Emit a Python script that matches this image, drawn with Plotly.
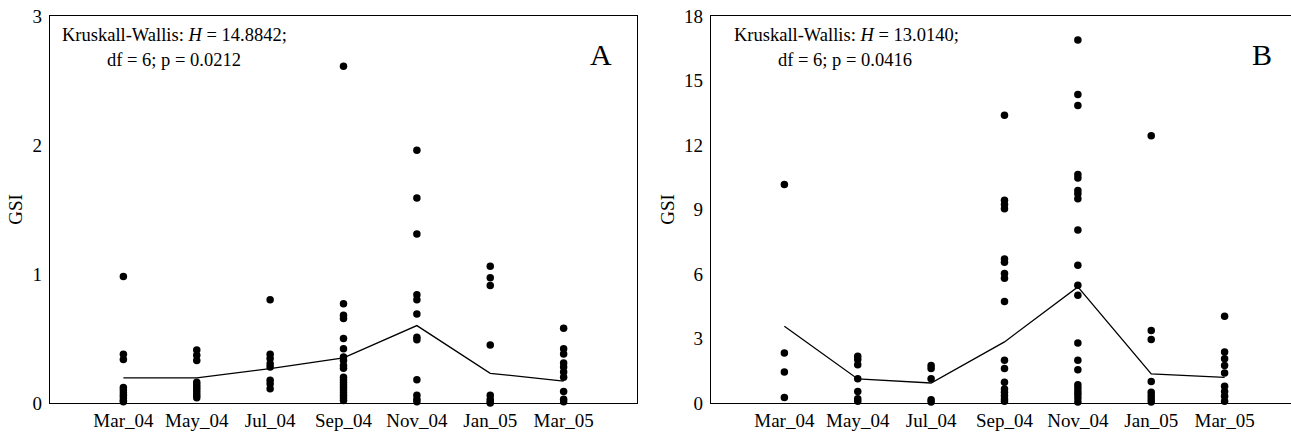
import plotly.graph_objects as go

categories = ["Mar_04", "May_04", "Jul_04", "Sep_04", "Nov_04", "Jan_05", "Mar_05"]

# Panel A: GSI values per sampling month
gsi_a = {
    "Mar_04": [0.98, 0.378, 0.337, 0.12, 0.10, 0.08, 0.06, 0.04, 0.02, 0.01],
    "May_04": [0.41, 0.37, 0.33, 0.16, 0.14, 0.12, 0.10, 0.08, 0.06, 0.04],
    "Jul_04": [0.80, 0.378, 0.345, 0.305, 0.28, 0.176, 0.15, 0.11],
    "Sep_04": [2.61, 0.77, 0.68, 0.655, 0.50, 0.42, 0.357, 0.33, 0.29, 0.27,
               0.20, 0.18, 0.16, 0.14, 0.12, 0.10, 0.08, 0.06, 0.04, 0.02],
    "Nov_04": [1.96, 1.59, 1.31, 0.84, 0.80, 0.69, 0.51, 0.49, 0.18, 0.06, 0.03, 0.01],
    "Jan_05": [1.06, 0.97, 0.91, 0.45, 0.06, 0.03, 0.01, 0.0],
    "Mar_05": [0.58, 0.42, 0.38, 0.31, 0.28, 0.24, 0.20, 0.09, 0.03, 0.01],
}
median_a = [0.194, 0.194, 0.267, 0.35, 0.60, 0.23, 0.17]

# Panel B: GSI values per sampling month
gsi_b = {
    "Mar_04": [10.16, 2.33, 1.44, 0.26],
    "May_04": [2.17, 2.02, 1.78, 1.13, 0.54, 0.2, 0.08],
    "Jul_04": [1.75, 1.6, 1.13, 0.15, 0.05],
    "Sep_04": [13.38, 9.43, 9.23, 9.03, 6.7, 6.55, 6.02, 5.8, 4.72, 1.99, 1.6,
               0.96, 0.65, 0.5, 0.34, 0.19, 0.08],
    "Nov_04": [16.88, 14.35, 13.84, 10.63, 10.47, 9.88, 9.73, 9.5, 8.05, 6.41,
               5.48, 5.01, 2.79, 1.99, 1.55, 0.85, 0.7, 0.54, 0.39, 0.23, 0.05],
    "Jan_05": [12.43, 3.37, 2.95, 1.0, 0.5, 0.34, 0.19, 0.05],
    "Mar_05": [4.03, 2.37, 2.06, 1.75, 1.4, 0.78, 0.54, 0.31, 0.08],
}
median_b = [3.57, 1.12, 0.93, 2.84, 5.4, 1.35, 1.19]

yticks_a = [0, 1, 2, 3]
yticks_b = [0, 3, 6, 9, 12, 15, 18]

FONT = "Liberation Serif, Times New Roman, serif"
W, H = 1291, 433


def px(xs):
    return xs / W


def py(ys):
    return 1 - ys / H


fig = go.Figure()


def add_panel(data, medians, xa, ya):
    xs, ys = [], []
    for c in categories:
        for v in data[c]:
            xs.append(c)
            ys.append(v)
    fig.add_trace(go.Scatter(x=categories, y=medians, mode="lines",
                             line=dict(color="black", width=1.3),
                             xaxis=xa, yaxis=ya, showlegend=False))
    fig.add_trace(go.Scatter(x=xs, y=ys, mode="markers",
                             marker=dict(color="black", size=7.5),
                             cliponaxis=False,
                             xaxis=xa, yaxis=ya, showlegend=False))


add_panel(gsi_a, median_a, "x", "y")
add_panel(gsi_b, median_b, "x2", "y2")

axis_common = dict(showline=True, linecolor="black", linewidth=1.3, mirror=True,
                   showgrid=False, zeroline=False, ticks="", automargin=False,
                   ticklabeloverflow="allow",
                   tickfont=dict(family=FONT, size=19, color="black"))

ydom = [py(403), py(16)]
ytitle = dict(text="GSI", font=dict(family=FONT, size=19), standoff=4)
fig.update_layout(
    width=W, height=H,
    margin=dict(l=0, r=0, t=0, b=0),
    paper_bgcolor="white", plot_bgcolor="white",
    font=dict(family=FONT, color="black"),
    xaxis=dict(domain=[px(50), px(637)], anchor="y", type="category",
               categoryorder="array", categoryarray=categories, range=[-1, 7],
               ticklabelstandoff=0, **axis_common),
    yaxis=dict(domain=ydom, anchor="x", range=[0, 3], tickvals=yticks_a,
               title=ytitle, ticklabelstandoff=3, **axis_common),
    # right frame of panel B lies just past the picture edge in the reference
    xaxis2=dict(domain=[px(711), 1.0], anchor="y2", type="category",
                categoryorder="array", categoryarray=categories, range=[-1, 6.905],
                ticklabelstandoff=0, **axis_common),
    yaxis2=dict(domain=ydom, anchor="x2", range=[0, 18], tickvals=yticks_b,
                title=ytitle, ticklabelstandoff=3, **axis_common),
)

ann_font = dict(family=FONT, size=18.5, color="black")
annotations = [
    dict(text="Kruskall-Wallis: <i>H</i> = 14.8842;", x=60, y=35),
    dict(text="df = 6; p = 0.0212", x=105, y=60),
    dict(text="Kruskall-Wallis: <i>H</i> = 13.0140;", x=732, y=35),
    dict(text="df = 6; p = 0.0416", x=776, y=60),
]
for a in annotations:
    fig.add_annotation(text=a["text"], x=px(a["x"]), y=py(a["y"]),
                       xref="paper", yref="paper", xanchor="left", yanchor="middle",
                       showarrow=False, font=ann_font)
for lab, cx in [("A", 601), ("B", 1262)]:
    fig.add_annotation(text=lab, x=px(cx), y=py(54), xref="paper", yref="paper",
                       xanchor="center", yanchor="middle", showarrow=False,
                       font=dict(family=FONT, size=30, color="black"))

fig.write_html("out.html", config={"displayModeBar": False},
               post_script="document.body.style.margin='0';")
